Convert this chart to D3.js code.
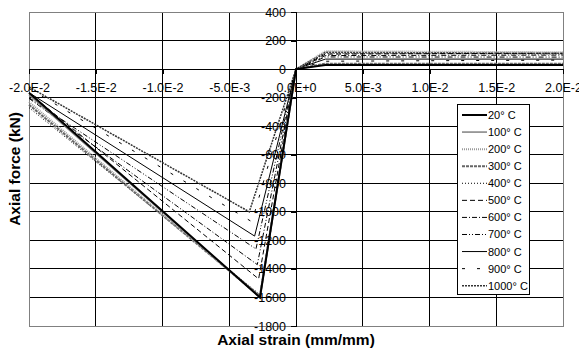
<!DOCTYPE html>
<html>
<head>
<meta charset="utf-8">
<script src="https://cdn.jsdelivr.net/npm/d3@7"></script>
<style>
  body { margin: 0; background: #fff; }
  text { font-family: "Liberation Sans", Arial, sans-serif; fill: #000; }
</style>
</head>
<body>
<svg id="chart" width="579" height="349"></svg>
<script>
// temperatures (legend order)
var temps = ["20° C", "100° C", "200° C", "300° C", "400° C", "500° C",
             "600° C", "700° C", "800° C", "900° C", "1000° C"];

// compression branch: peak point and value at strain -0.02
var peakStrain = [-0.0027, -0.0027, -0.0027, -0.0027, -0.0027, -0.0028,
                  -0.0029, -0.0030, -0.0031, -0.0033, -0.0035];
var peakForce  = [-1600, -1600, -1595, -1590, -1580, -1470,
                  -1370, -1260, -1170, -1070, -1000];
var endForce   = [-165, -180, -230, -250, -270, -170,
                  -205, -200, -165, -135, -125];

// tension branch: yield point and value at strain 0.02
var tensStrain   = [0.0022, 0.0022, 0.0022, 0.0022, 0.0022, 0.0022,
                    0.0022, 0.0022, 0.0022, 0.0022, 0.0022];
var tensForce    = [28, 32, 125, 38, 110, 105, 95, 85, 70, 55, 118];
var tensEndForce = [28, 32, 118, 38, 105, 112, 98, 84, 70, 63, 110];

// axis ticks
var xTicks = [-0.02, -0.015, -0.01, -0.005, 0, 0.005, 0.01, 0.015, 0.02];
var xTickLabels = ["-2.0E-2", "-1.5E-2", "-1.0E-2", "-5.0E-3", "0.0E+0",
                   "5.0E-3", "1.0E-2", "1.5E-2", "2.0E-2"];
var yTicks = [-1800, -1600, -1400, -1200, -1000, -800, -600, -400, -200, 0, 200, 400];

// line look for each temperature
var lineStyles = [
  { stroke: "#000",    width: 2,   dash: null },
  { stroke: "#808080", width: 1.5, dash: null },
  { stroke: "#9a9a9a", width: 2,   dash: "1,1" },
  { stroke: "#666",    width: 2,   dash: "3,1" },
  { stroke: "#000",    width: 1,   dash: "1,2" },
  { stroke: "#000",    width: 1,   dash: "5,3" },
  { stroke: "#000",    width: 1,   dash: "5,2,1,2" },
  { stroke: "#000",    width: 1,   dash: "5,2,1,2,1,2" },
  { stroke: "#000",    width: 1,   dash: null },
  { stroke: "#000",    width: 1,   dash: "3,12" },
  { stroke: "#333",    width: 1.5, dash: "2,1" }
];

(function() {
  var svg = d3.select("#chart");
  var font = "'Liberation Sans', Arial, sans-serif";
  // plot area (note: "top" is taken by window.top, so use pTop etc.)
  var pLeft = 29, pRight = 563, pTop = 12, pBottom = 326;

  var x = d3.scaleLinear().domain([-0.02, 0.02]).range([pLeft, pRight]);
  var y = d3.scaleLinear().domain([-1800, 400]).range([pBottom, pTop]);

  svg.append("rect").attr("width", 579).attr("height", 349).attr("fill", "#fff");

  // gridlines
  var grid = svg.append("g").attr("shape-rendering", "crispEdges");
  grid.selectAll(".vg").data(xTicks).enter().append("line")
    .attr("x1", function(d) { return x(d); }).attr("x2", function(d) { return x(d); })
    .attr("y1", pTop).attr("y2", pBottom)
    .attr("stroke", "#000").attr("stroke-width", 1);
  grid.selectAll(".hg").data(yTicks).enter().append("line")
    .attr("x1", pLeft).attr("x2", pRight)
    .attr("y1", function(d) { return y(d); }).attr("y2", function(d) { return y(d); })
    .attr("stroke", "#000").attr("stroke-width", 1);

  // plot border
  svg.append("rect")
    .attr("x", pLeft).attr("y", pTop)
    .attr("width", pRight - pLeft).attr("height", pBottom - pTop)
    .attr("fill", "none").attr("stroke", "#808080")
    .attr("shape-rendering", "crispEdges");

  // build the series from the arrays
  var series = temps.map(function(t, i) {
    return [
      [-0.02, endForce[i]],
      [peakStrain[i], peakForce[i]],
      [0, 0],
      [tensStrain[i], tensForce[i]],
      [0.02, tensEndForce[i]]
    ];
  });

  var line = d3.line()
    .x(function(d) { return x(d[0]); })
    .y(function(d) { return y(d[1]); });

  // draw hot ones first so 20 C ends up on top
  var order = d3.range(temps.length).reverse();
  svg.append("g").selectAll("path").data(order).enter().append("path")
    .attr("d", function(i) { return line(series[i]); })
    .attr("fill", "none")
    .attr("stroke", function(i) { return lineStyles[i].stroke; })
    .attr("stroke-width", function(i) { return lineStyles[i].width; })
    .attr("stroke-dasharray", function(i) { return lineStyles[i].dash; });

  // y axis sits on strain = 0
  var yAxis = d3.axisLeft(y).tickValues(yTicks).tickSize(5).tickPadding(5)
    .tickFormat(function(d) { return d; });
  var ya = svg.append("g")
    .attr("transform", "translate(" + x(0) + ",0)")
    .attr("shape-rendering", "crispEdges")
    .call(yAxis);
  ya.select(".domain").attr("stroke", "#000");
  ya.selectAll("text").style("font-size", "12.5px").attr("fill", "#000")
    .attr("font-family", font);

  // x axis sits on force = 0
  var xAxis = d3.axisBottom(x).tickValues(xTicks).tickSize(5).tickPadding(9)
    .tickFormat(function(d, i) { return xTickLabels[i]; });
  var xa = svg.append("g")
    .attr("transform", "translate(0," + y(0) + ")")
    .attr("shape-rendering", "crispEdges")
    .call(xAxis);
  xa.select(".domain").attr("stroke", "#000");
  xa.selectAll("text").style("font-size", "12.5px").attr("fill", "#000")
    .attr("font-family", font);

  // axis titles
  svg.append("text")
    .attr("transform", "translate(20," + ((pTop + pBottom) / 2) + ") rotate(-90)")
    .attr("text-anchor", "middle")
    .style("font-size", "15.5px").style("font-weight", "bold")
    .text("Axial force (kN)");
  svg.append("text")
    .attr("x", x(0)).attr("y", 345)
    .attr("text-anchor", "middle")
    .style("font-size", "15.5px").style("font-weight", "bold")
    .text("Axial strain (mm/mm)");

  // legend
  var lg = svg.append("g");
  lg.append("rect")
    .attr("x", 457.5).attr("y", 104.5).attr("width", 72).attr("height", 190)
    .attr("fill", "#fff").attr("stroke", "#000");
  var rowH = 17.07;
  var rows = lg.selectAll(".row").data(temps).enter().append("g")
    .attr("transform", function(d, i) { return "translate(0," + (115 + i * rowH) + ")"; });
  rows.append("line")
    .attr("x1", 462).attr("x2", 487).attr("y1", 0).attr("y2", 0)
    .attr("stroke", function(d, i) { return lineStyles[i].stroke; })
    .attr("stroke-width", function(d, i) { return lineStyles[i].width; })
    .attr("stroke-dasharray", function(d, i) { return lineStyles[i].dash; });
  rows.append("text")
    .attr("x", 488).attr("y", 4)
    .style("font-size", "11px")
    .text(function(d) { return d; });
})();
</script>
</body>
</html>
